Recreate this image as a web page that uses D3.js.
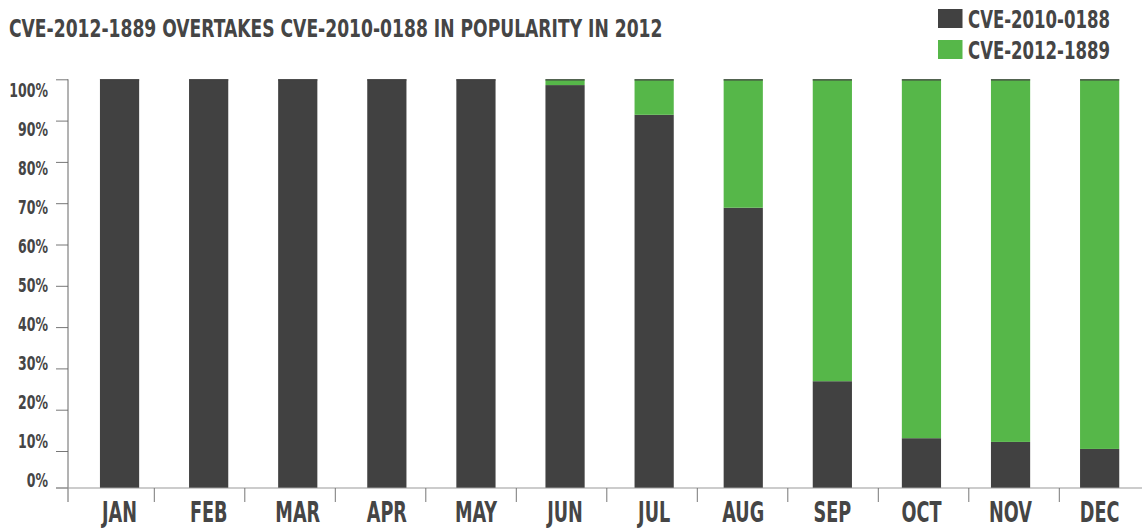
<!DOCTYPE html>
<html>
<head>
<meta charset="utf-8">
<script src="https://cdn.jsdelivr.net/npm/d3@7"></script>
<style>
  body { margin: 0; background: #fff; }
  svg text { font-family: "Liberation Sans Narrow", "DejaVu Sans Condensed", "Roboto Condensed", sans-serif; font-weight: bold; fill: #454545; }
</style>
</head>
<body>
<svg id="chart" width="1142" height="529"></svg>
<script>
var months = ['JAN', 'FEB', 'MAR', 'APR', 'MAY', 'JUN', 'JUL', 'AUG', 'SEP', 'OCT', 'NOV', 'DEC']
var seriesNames = ['CVE-2010-0188', 'CVE-2012-1889']
// share of each month
var cve20100188 = [1, 1, 1, 1, 1, 0.986, 0.914, 0.689, 0.269, 0.131, 0.122, 0.105]
var cve20121889 = [0, 0, 0, 0, 0, 0.014, 0.086, 0.311, 0.731, 0.869, 0.878, 0.895]
var yTicks = [0, 0.1, 0.2, 0.3, 0.4, 0.5, 0.6, 0.7, 0.8, 0.9, 1]
var title = 'CVE-2012-1889 OVERTAKES CVE-2010-0188 IN POPULARITY IN 2012'

var colors = ['#414141', '#56b749']
var baseline = 488

var svg = d3.select('#chart')

var rows = months.map(function(m, i) {
  return { month: m, a: cve20100188[i], b: cve20121889[i] }
})
var stack = d3.stack().keys(['a', 'b'])(rows)

var x = d3.scaleBand().domain(months).range([75, 1144.2]).paddingInner(0.56).paddingOuter(0.28)
// tick marks under the axis use their own spacing
var xGrid = d3.scaleBand().domain(months).range([63.8, 1149.8])
var y = d3.scaleLinear().domain([0, 1]).range([492.3, 79.3])
var yLabel = d3.scaleLinear().domain([0, 1]).range([487.4, 96.8])

// squeeze a text group so that a sample text gets the wanted width
function squeeze(sel, sample, width) {
  var w = 1
  sel.each(function(d) { if (d3.select(this).text() === sample) w = this.getComputedTextLength() })
  return width / w
}

svg.append('defs').append('clipPath').attr('id', 'plotclip')
  .append('rect').attr('x', 60).attr('y', 60).attr('width', 1082).attr('height', baseline - 60)

// bars
var layers = svg.append('g').attr('clip-path', 'url(#plotclip)')
  .selectAll('g').data(stack).enter().append('g')
  .attr('fill', function(d, i) { return colors[i] })

layers.selectAll('rect').data(function(d) { return d }).enter().append('rect')
  .attr('x', function(d) { return x(d.data.month) })
  .attr('width', x.bandwidth())
  .attr('y', function(d) { return y(d[1]) })
  .attr('height', function(d) { return y(d[0]) - y(d[1]) })

// thin dark cap on top of each bar
svg.append('g').selectAll('line').data(months).enter().append('line')
  .attr('x1', function(d) { return x(d) })
  .attr('x2', function(d) { return x(d) + x.bandwidth() })
  .attr('y1', y(1) + 0.5).attr('y2', y(1) + 0.5)
  .attr('stroke', colors[0]).attr('stroke-width', 1.2)

// y axis
var yAxis = svg.append('g').attr('transform', 'translate(68,0)')
  .call(d3.axisLeft(y).tickValues(yTicks).tickSize(12).tickFormat(''))
yAxis.select('.domain').remove()
yAxis.selectAll('.tick line').attr('stroke', '#777')
yAxis.selectAll('.tick').filter(function(d) { return d === 0 }).attr('transform', 'translate(0,' + baseline + ')')
yAxis.append('line').attr('x1', 0).attr('x2', 0).attr('y1', y(1)).attr('y2', 502).attr('stroke', '#666')

var yText = svg.append('g').selectAll('text').data(yTicks).enter().append('text')
  .attr('text-anchor', 'end')
  .style('font-size', '19.5px')
  .text(function(d) { return d3.format('.0%')(d) })
var ys = squeeze(yText, '100%', 38.7)
yText.attr('transform', function(d) { return 'translate(48,' + yLabel(d) + ') scale(' + ys + ',1)' })

// x axis
svg.append('line').attr('x1', 56).attr('x2', 1142).attr('y1', baseline).attr('y2', baseline)
  .attr('stroke', '#999').attr('stroke-width', 1.2)
svg.append('g').selectAll('line').data(months.slice(1)).enter().append('line')
  .attr('x1', function(d) { return xGrid(d) }).attr('x2', function(d) { return xGrid(d) })
  .attr('y1', baseline).attr('y2', 502)
  .attr('stroke', '#777')

var xText = svg.append('g').selectAll('text').data(months).enter().append('text')
  .attr('text-anchor', 'middle')
  .style('font-size', '27.5px')
  .text(function(d) { return d })
var xs = squeeze(xText, 'JAN', 35)
xText.attr('transform', function(d) { return 'translate(' + (x(d) + x.bandwidth() / 2) + ',522) scale(' + xs + ',1)' })

// title
var titleText = svg.append('text')
  .style('font-size', '24.3px')
  .text(title)
var ts = squeeze(titleText, title, 654)
titleText.attr('transform', 'translate(9,36.8) scale(' + ts + ',1)')

// legend
var legend = svg.append('g').selectAll('g').data(seriesNames).enter().append('g')
  .attr('transform', function(d, i) { return 'translate(938,' + (9 + i * 31) + ')' })
legend.append('rect').attr('width', 24.5).attr('height', 19)
  .attr('fill', function(d, i) { return colors[i] })
var legendText = legend.append('text')
  .style('font-size', '25px')
  .text(function(d) { return d })
var ls = squeeze(legendText, seriesNames[0], 142)
legendText.attr('transform', 'translate(30,18.5) scale(' + ls + ',1)')
</script>
</body>
</html>
